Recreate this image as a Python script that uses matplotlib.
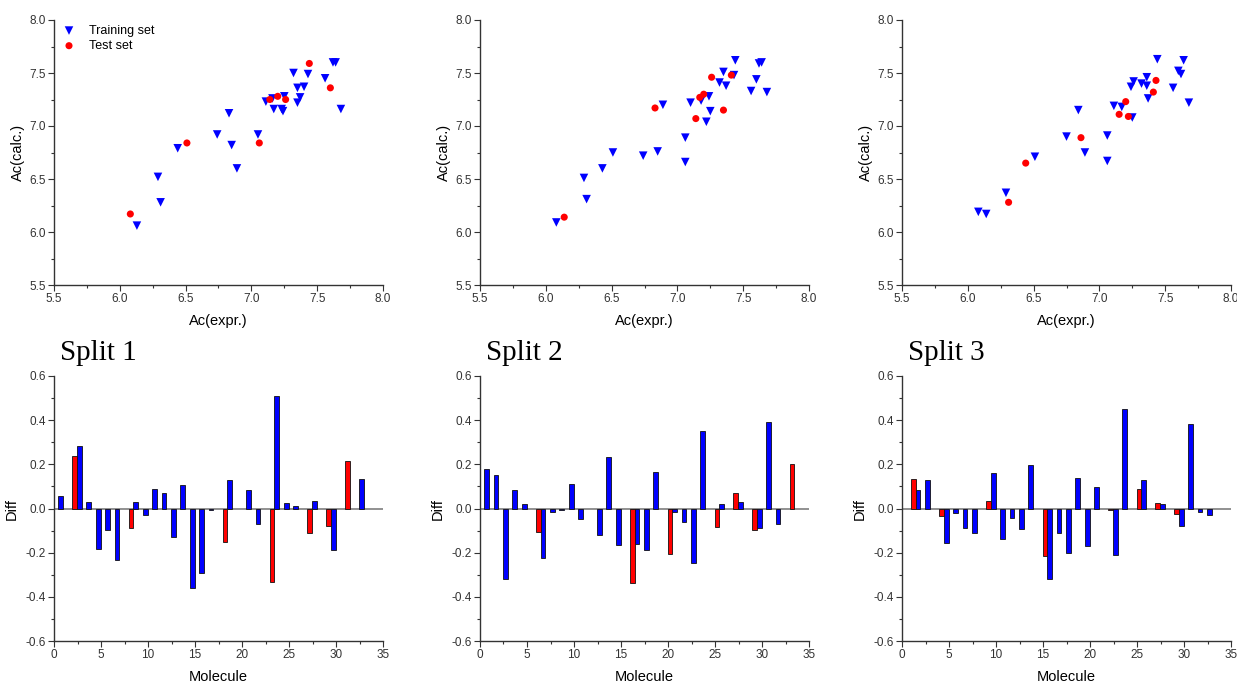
import numpy as np
import matplotlib.pyplot as plt
from matplotlib.ticker import MultipleLocator

plt.rcParams['font.family'] = ['Liberation Sans', 'DejaVu Sans']

# ---- scatter data: experimental vs calculated activity ----
s1_train_x = [6.13, 6.29, 6.31, 6.44, 6.74, 6.83, 6.85, 6.89, 7.05, 7.11, 7.16, 7.17, 7.23, 7.24,
              7.25, 7.32, 7.35, 7.35, 7.37, 7.40, 7.43, 7.56, 7.62, 7.64, 7.68]
s1_train_y = [6.06, 6.52, 6.28, 6.79, 6.92, 7.12, 6.82, 6.60, 6.92, 7.23, 7.26, 7.16, 7.16, 7.14,
              7.28, 7.50, 7.36, 7.22, 7.27, 7.37, 7.49, 7.45, 7.60, 7.60, 7.16]
s1_test_x = [6.08, 6.51, 7.06, 7.14, 7.20, 7.26, 7.44, 7.60]
s1_test_y = [6.17, 6.84, 6.84, 7.25, 7.28, 7.25, 7.59, 7.36]

s2_train_x = [6.08, 6.29, 6.31, 6.43, 6.51, 6.74, 6.85, 6.89, 7.06, 7.06, 7.10, 7.18, 7.22, 7.24,
              7.25, 7.32, 7.35, 7.37, 7.43, 7.44, 7.56, 7.60, 7.62, 7.64, 7.68]
s2_train_y = [6.09, 6.51, 6.31, 6.60, 6.75, 6.72, 6.76, 7.20, 6.89, 6.66, 7.22, 7.24, 7.04, 7.28,
              7.14, 7.41, 7.51, 7.38, 7.48, 7.62, 7.33, 7.44, 7.59, 7.60, 7.32]
s2_test_x = [6.14, 6.83, 7.14, 7.17, 7.20, 7.26, 7.35, 7.41]
s2_test_y = [6.14, 7.17, 7.07, 7.27, 7.30, 7.46, 7.15, 7.48]

s3_train_x = [6.08, 6.14, 6.29, 6.51, 6.75, 6.84, 6.89, 7.06, 7.06, 7.11, 7.17, 7.24, 7.25, 7.26,
              7.32, 7.36, 7.36, 7.37, 7.44, 7.56, 7.60, 7.62, 7.64, 7.68]
s3_train_y = [6.19, 6.17, 6.37, 6.71, 6.90, 7.15, 6.75, 6.91, 6.67, 7.19, 7.18, 7.37, 7.08, 7.42,
              7.40, 7.46, 7.38, 7.26, 7.63, 7.36, 7.52, 7.49, 7.62, 7.22]
s3_test_x = [6.31, 6.44, 6.86, 7.15, 7.20, 7.22, 7.41, 7.43]
s3_test_y = [6.28, 6.65, 6.89, 7.11, 7.23, 7.09, 7.32, 7.43]

# ---- bar data: residuals per molecule ----
s1_train_mol = [1, 3, 4, 5, 6, 7, 9, 10, 11, 12, 13, 14, 15, 16, 17, 19, 21, 22, 24, 25, 26, 28, 30, 33]
s1_train_diff = [0.055, 0.282, 0.029, -0.182, -0.096, -0.232, 0.029, -0.029, 0.090, 0.068, -0.130,
                 0.107, -0.360, -0.291, -0.009, 0.130, 0.086, -0.072, 0.508, 0.023, 0.012, 0.033,
                 -0.187, 0.134]
s1_test_mol = [3, 9, 19, 24, 28, 30, 32]
s1_test_diff = [0.237, -0.090, -0.151, -0.335, -0.109, -0.078, 0.217]

s2_train_mol = [1, 2, 3, 4, 5, 7, 8, 9, 10, 11, 13, 14, 15, 17, 18, 19, 21, 22, 23, 24, 26, 28, 30, 31, 32]
s2_train_diff = [0.179, 0.152, -0.318, 0.086, 0.020, -0.223, -0.017, -0.009, 0.110, -0.047, -0.122,
                 0.231, -0.164, -0.160, -0.190, 0.164, -0.017, -0.060, -0.249, 0.350, 0.021, 0.029,
                 -0.087, 0.392, -0.071]
s2_test_mol = [7, 17, 21, 26, 28, 30, 34]
s2_test_diff = [-0.106, -0.336, -0.207, -0.083, 0.072, -0.096, 0.202]

s3_train_mol = [2, 3, 5, 6, 7, 8, 10, 11, 12, 13, 14, 16, 17, 18, 19, 20, 21, 23, 24, 26, 28, 30, 31, 32, 33]
s3_train_diff = [0.086, 0.130, -0.157, -0.021, -0.090, -0.113, 0.160, -0.140, -0.042, -0.095, 0.195,
                 -0.321, -0.113, -0.200, 0.139, -0.169, 0.098, -0.210, 0.452, 0.130, 0.020, -0.081,
                 0.384, -0.017, -0.030]
s3_test_mol = [2, 5, 10, 16, 23, 26, 28, 30]
s3_test_diff = [0.134, -0.036, 0.032, -0.214, -0.008, 0.089, 0.027, -0.024]

split_titles = ['Split 1', 'Split 2', 'Split 3']

scatter_sets = [
    (s1_train_x, s1_train_y, s1_test_x, s1_test_y),
    (s2_train_x, s2_train_y, s2_test_x, s2_test_y),
    (s3_train_x, s3_train_y, s3_test_x, s3_test_y),
]
bar_sets = [
    (s1_train_mol, s1_train_diff, s1_test_mol, s1_test_diff),
    (s2_train_mol, s2_train_diff, s2_test_mol, s2_test_diff),
    (s3_train_mol, s3_train_diff, s3_test_mol, s3_test_diff),
]

W, H = 1237, 682
fig = plt.figure(figsize=(W / 100, H / 100), dpi=100)

def px_axes(x0, y0, x1, y1):
    # pixel box (top-left origin) -> figure fraction
    return fig.add_axes([x0 / W, 1 - y1 / H, (x1 - x0) / W, (y1 - y0) / H])

def style(ax):
    for side in ['top', 'right']:
        ax.spines[side].set_visible(False)
    for side in ['left', 'bottom']:
        ax.spines[side].set_color('#333333')
        ax.spines[side].set_linewidth(1.0)
    ax.tick_params(which='major', direction='out', length=4, width=0.8, labelsize=8.5,
                   colors='#333333', pad=2)
    ax.tick_params(which='minor', direction='out', length=2.5, width=0.8, colors='#333333')

lefts = [54, 480, 902]
width = 329

for k in range(3):
    x0 = lefts[k]
    trx, try_, tex, tey = scatter_sets[k]
    ax = px_axes(x0, 20, x0 + width, 285)
    ax.scatter(trx, try_, marker='v', s=38, color='#0000ff', edgecolors='none',
               label='Training set', zorder=3)
    ax.scatter(tex, tey, marker='o', s=26, color='#ff0000', edgecolors='none',
               label='Test set', zorder=3)
    ax.set_xlim(5.5, 8.0)
    ax.set_ylim(5.5, 8.0)
    ax.xaxis.set_major_locator(MultipleLocator(0.5))
    ax.xaxis.set_minor_locator(MultipleLocator(0.25))
    ax.yaxis.set_major_locator(MultipleLocator(0.5))
    ax.yaxis.set_minor_locator(MultipleLocator(0.25))
    ax.xaxis.set_major_formatter(plt.FormatStrFormatter('%.1f'))
    ax.yaxis.set_major_formatter(plt.FormatStrFormatter('%.1f'))
    ax.set_xlabel('Ac(expr.)', fontsize=10.5, labelpad=6)
    ax.set_ylabel('Ac(calc.)', fontsize=10.5, labelpad=3)
    style(ax)
    if k == 0:
        ax.legend(loc='upper left', frameon=False, fontsize=9, handletextpad=1.0,
                  borderaxespad=0.2, labelspacing=0.25, handlelength=1.2,
                  bbox_to_anchor=(0.0, 1.01))

    trm, trd, tem, ted = bar_sets[k]
    bx = px_axes(x0, 376, x0 + width, 641)
    bx.bar(np.array(trm) - 0.3, trd, width=0.5, color='#0000ff', edgecolor='#111111',
           linewidth=0.6, zorder=3)
    bx.bar(np.array(tem) - 0.8, ted, width=0.5, color='#ff0000', edgecolor='#111111',
           linewidth=0.6, zorder=3)
    bx.axhline(0, color='#888888', linewidth=1.3, zorder=2)
    bx.set_xlim(0, 35)
    bx.set_ylim(-0.6, 0.6)
    bx.xaxis.set_major_locator(MultipleLocator(5))
    bx.xaxis.set_minor_locator(MultipleLocator(2.5))
    bx.yaxis.set_major_locator(MultipleLocator(0.2))
    bx.yaxis.set_minor_locator(MultipleLocator(0.1))
    bx.yaxis.set_major_formatter(plt.FormatStrFormatter('%.1f'))
    bx.set_xlabel('Molecule', fontsize=10.5, labelpad=6)
    bx.set_ylabel('Diff', fontsize=10.5, labelpad=5)
    style(bx)

    fig.text((x0 + 6) / W, 1 - 360 / H, split_titles[k], fontsize=21,
             family=['Liberation Serif', 'DejaVu Serif'], ha='left', va='baseline')

fig.savefig('out.png', dpi=100)
